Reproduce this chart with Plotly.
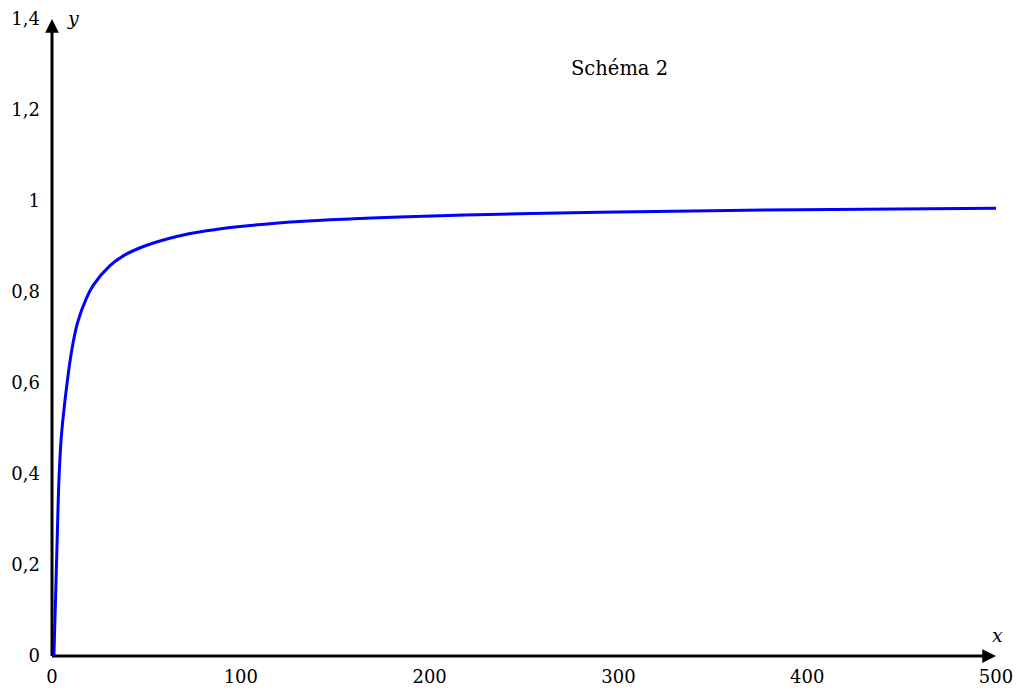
import plotly.graph_objects as go

# curve values
curve_x = [1, 1.9, 2.8, 3.7, 4.9, 6.3, 7.7, 10.3, 13.5, 18.2, 21.9, 30.7, 38, 48.4, 66, 81,
           99.6, 131, 160, 184, 237, 290, 396, 500]
curve_y = [0, 0.13, 0.265, 0.39, 0.48, 0.54, 0.59, 0.668, 0.732, 0.786, 0.815, 0.858, 0.880,
           0.900, 0.922, 0.934, 0.944, 0.955, 0.961, 0.965, 0.971, 0.975, 0.981, 0.984]

x_ticks = [0, 100, 200, 300, 400, 500]
x_tick_labels = ["0", "100", "200", "300", "400", "500"]
y_ticks = [0, 0.2, 0.4, 0.6, 0.8, 1, 1.2, 1.4]
y_tick_labels = ["0", "0,2", "0,4", "0,6", "0,8", "1", "1,2", "1,4"]

title_text = "Schéma 2"

FONT = "DejaVu Serif"

fig = go.Figure()
fig.add_trace(go.Scatter(x=curve_x, y=curve_y, mode="lines",
                         line=dict(color="rgb(0,0,255)", width=3, shape="spline", smoothing=1.0),
                         hoverinfo="skip", showlegend=False, cliponaxis=False))

# axes lines (paper refs so they are not clipped at the plot edge)
fig.add_shape(type="line", xref="paper", yref="paper", x0=0, y0=0, x1=0.994, y1=0,
              line=dict(color="black", width=3), layer="below")
fig.add_shape(type="line", xref="paper", yref="paper", x0=0, y0=0, x1=0, y1=0.99,
              line=dict(color="black", width=3), layer="below")
# arrowheads
fig.add_annotation(x=1, y=0, ax=-12, ay=0, xref="paper", yref="paper",
                   text="", showarrow=True, arrowhead=2, arrowsize=1.1, arrowwidth=2.5,
                   arrowcolor="black")
fig.add_annotation(x=0, y=1, ax=0, ay=12, xref="paper", yref="paper",
                   text="", showarrow=True, arrowhead=2, arrowsize=1.1, arrowwidth=2.5,
                   arrowcolor="black")

# axis names
fig.add_annotation(x=0, y=1.4, xref="x", yref="y", text="<i>y</i>", showarrow=False,
                   xshift=21, yshift=1, font=dict(family=FONT, size=19, color="black"))
fig.add_annotation(x=500, y=0, xref="x", yref="y", text="<i>x</i>", showarrow=False,
                   xshift=1, yshift=21, font=dict(family=FONT, size=19, color="black"))

# title
fig.add_annotation(x=300.5, y=1.292, xref="x", yref="y", text=title_text, showarrow=False,
                   font=dict(family=FONT, size=19.5, color="black"))

fig.update_xaxes(range=[0, 500], tickvals=x_ticks, ticktext=x_tick_labels,
                 showgrid=False, zeroline=False, showline=False, ticks="",
                 ticklabelstandoff=8, automargin=False, ticklabeloverflow="allow",
                 tickfont=dict(family=FONT, size=18, color="black"))
fig.update_yaxes(range=[0, 1.4], tickvals=y_ticks, ticktext=y_tick_labels,
                 showgrid=False, zeroline=False, showline=False, ticks="",
                 ticklabelstandoff=11, automargin=False, ticklabeloverflow="allow",
                 tickfont=dict(family=FONT, size=18, color="black"))

# the page body has an 8px margin: size the figure so the plot lands where the reference has it
fig.update_layout(width=1005, height=678, autosize=False,
                  margin=dict(l=44, r=17, t=11, b=30),
                  plot_bgcolor="white", paper_bgcolor="white",
                  font=dict(family=FONT, color="black"))

fig.write_html("out.html")
